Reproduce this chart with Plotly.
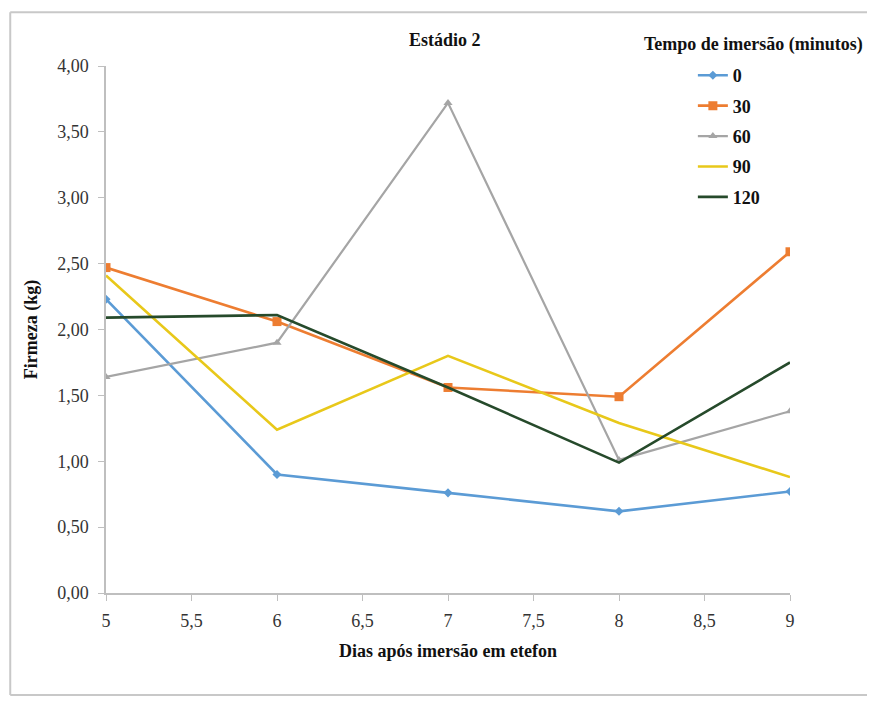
import plotly.graph_objects as go

dias = [5, 6, 7, 8, 9]
serie_0 = [2.23, 0.90, 0.76, 0.62, 0.77]
serie_30 = [2.47, 2.06, 1.56, 1.49, 2.59]
serie_60 = [1.64, 1.90, 3.72, 1.01, 1.38]
serie_90 = [2.41, 1.24, 1.80, 1.29, 0.88]
serie_120 = [2.09, 2.11, 1.56, 0.99, 1.75]
nomes = ["0", "30", "60", "90", "120"]
y_ticks = [0, 0.5, 1, 1.5, 2, 2.5, 3, 3.5, 4]
x_ticks = [5, 5.5, 6, 6.5, 7, 7.5, 8, 8.5, 9]

serif = "'Liberation Serif', 'Times New Roman', 'DejaVu Serif', serif"
series = [serie_0, serie_30, serie_60, serie_90, serie_120]
cores = ["#5B9BD5", "#ED7D31", "#A5A5A5", "#E8C81A", "#264A2B"]
simbolos = ["diamond", "square", "triangle-up", None, None]
tamanhos = [7, 9, 8, 0, 0]
larguras = [2.6, 2.6, 2.2, 2.6, 2.6]

fig = go.Figure()
for nome, ys, cor, sim, tam, lw in zip(nomes, series, cores, simbolos, tamanhos, larguras):
    kw = dict(mode="lines+markers", marker=dict(symbol=sim, size=tam, color=cor)) if sim else dict(mode="lines")
    fig.add_trace(go.Scatter(x=dias, y=ys, name=nome, legendgroup=nome,
                             line=dict(color=cor, width=lw), **kw))

borda = dict(color="#C8C8C8", width=2)
fig.update_layout(
    width=859, height=688,
    margin=dict(l=98, r=77, t=58, b=103),
    paper_bgcolor="white", plot_bgcolor="white",
    separators=",.",
    font=dict(family=serif, color="#222"),
    showlegend=True,
    legend=dict(x=0.858, y=1.017, xanchor="left", yanchor="top",
                traceorder="grouped", tracegroupgap=4,
                font=dict(family=serif, size=18, color="#111", weight="bold"),
                bgcolor="rgba(0,0,0,0)", itemwidth=30),
    xaxis=dict(range=[5, 9], tickvals=x_ticks, showgrid=False, zeroline=False,
               showline=True, linecolor="#BFBFBF", linewidth=1.5,
               ticks="outside", ticklen=6, tickcolor="#BFBFBF", ticklabelstandoff=5,
               tickfont=dict(family=serif, size=18, color="#333"),
               title=dict(text="<b>Dias após imersão em etefon</b>", standoff=14,
                          font=dict(family=serif, size=18, color="#111"))),
    yaxis=dict(range=[0, 4], tickvals=y_ticks, tickformat=".2f", showgrid=False, zeroline=False,
               showline=True, linecolor="#BFBFBF", linewidth=1.5,
               ticks="outside", ticklen=6, tickcolor="#BFBFBF", ticklabelstandoff=6,
               tickfont=dict(family=serif, size=18, color="#333"),
               title=dict(text="<b>Firmeza (kg)</b>", standoff=15,
                          font=dict(family=serif, size=18, color="#111"))),
    annotations=[
        dict(text="<b>Estádio 2</b>", xref="paper", yref="paper", x=0.496, y=1.049,
             xanchor="center", yanchor="middle", showarrow=False,
             font=dict(family=serif, size=18, color="#111")),
        dict(text="<b>Tempo de imersão (minutos)</b>", xref="paper", yref="paper",
             x=1.11, y=1.04, xanchor="right", yanchor="middle", showarrow=False,
             font=dict(family=serif, size=18, color="#111")),
    ],
    shapes=[
        dict(type="line", xref="paper", yref="paper", x0=-0.140, x1=-0.140, y0=-0.1935, y1=1.102, line=borda),
        dict(type="line", xref="paper", yref="paper", x0=-0.140, x1=1.12, y0=1.102, y1=1.102, line=borda),
        dict(type="line", xref="paper", yref="paper", x0=-0.140, x1=1.12, y0=-0.1935, y1=-0.1935, line=borda),
    ],
)

fig.write_html("out.html")
